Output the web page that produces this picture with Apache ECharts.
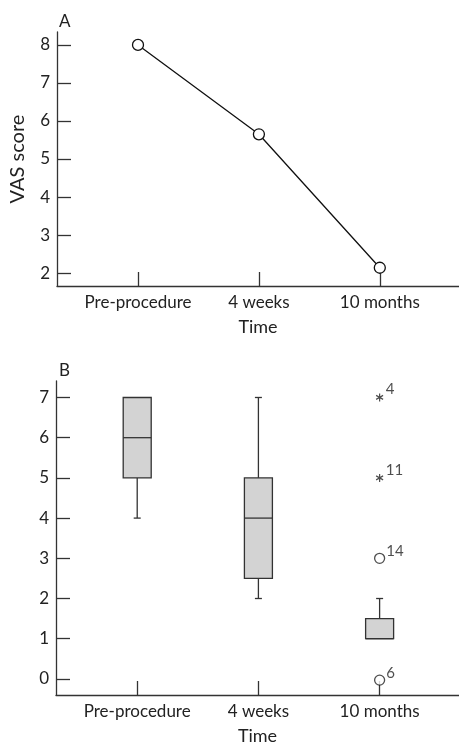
<!DOCTYPE html>
<html><head><meta charset="utf-8">
<script src="https://cdn.jsdelivr.net/npm/echarts@6/dist/echarts.min.js"></script>
<style>html,body{margin:0;padding:0;background:#fff}#c{width:459px;height:746px}</style>
</head><body><div id="c"></div>
<script>
// ---- data ----
const categories = ['Pre-procedure', '4 weeks', '10 months'];
const catPos = [0, 1, 2];
const vasMean = [8.0, 5.65, 2.14];
const yTicksA = [2, 3, 4, 5, 6, 7, 8];
const yTicksB = [0, 1, 2, 3, 4, 5, 6, 7];
const boxMin = [4, 2, 1];
const boxQ1 = [5, 2.5, 1];
const boxMedian = [6, 4, 1];
const boxQ3 = [7, 5, 1.5];
const boxMax = [7, 7, 2];
const extremeCat = [2, 2];
const extremeValue = [7, 5];
const extremeId = ['4', '11'];
const outlierCat = [2, 2];
const outlierValue = [3, -0.03];
const outlierId = ['14', '6'];

// ---- style ----
const FONT = 'Lato, "Liberation Sans", sans-serif';
const TXT = '#222';
const AX = '#333';

function xAxisCfg(gi) {
  return {
    gridIndex: gi, type: 'value', min: -0.67, max: 2.655,
    axisLine: { show: true, onZero: false, lineStyle: { color: AX, width: 1.3 } },
    axisTick: { show: true, inside: true, length: 14, customValues: catPos, lineStyle: { color: AX, width: 1.3 } },
    axisLabel: { customValues: catPos, formatter: v => categories[Math.round(v)], fontFamily: FONT, fontSize: 17, color: TXT, margin: 8 },
    splitLine: { show: false },
    name: 'Time', nameLocation: 'middle', nameGap: 32,
    nameTextStyle: { fontFamily: FONT, fontSize: 18, color: TXT }
  };
}
function yAxisCfg(gi, min, max, ticks, name) {
  return {
    gridIndex: gi, type: 'value', min: min, max: max,
    axisLine: { show: true, onZero: false, lineStyle: { color: AX, width: 1.3 } },
    axisTick: { show: true, inside: true, length: 14, customValues: ticks, lineStyle: { color: AX, width: 1.3 } },
    axisLabel: { customValues: ticks, fontFamily: FONT, fontSize: 17, color: TXT, margin: 7 },
    splitLine: { show: false },
    name: name, nameLocation: 'middle', nameGap: 29, nameRotate: 90,
    nameTextStyle: { fontFamily: FONT, fontSize: 20, color: TXT }
  };
}

const boxData = catPos.map((c, i) => [c, boxMin[i], boxQ1[i], boxMedian[i], boxQ3[i], boxMax[i]]);
const starPath = 'path://M5,0L5,10M0.67,2.5L9.33,7.5M0.67,7.5L9.33,2.5';

const option = {
  animation: false,
  backgroundColor: '#fff',
  title: [
    { text: 'A', left: 59, top: 13, padding: 0, textStyle: { fontFamily: FONT, fontSize: 17, fontWeight: 'normal', color: TXT } },
    { text: 'B', left: 59, top: 362, padding: 0, textStyle: { fontFamily: FONT, fontSize: 17, fontWeight: 'normal', color: TXT } }
  ],
  grid: [
    { left: 56, right: 0, top: 32, height: 254 },
    { left: 56, right: 0, top: 381, height: 316 }
  ],
  xAxis: [xAxisCfg(0), xAxisCfg(1)],
  yAxis: [
    yAxisCfg(0, 1.66, 8.34, yTicksA, 'VAS score'),
    yAxisCfg(1, -0.40, 7.41, yTicksB, '')
  ],
  series: [
    {
      type: 'line', xAxisIndex: 0, yAxisIndex: 0,
      data: catPos.map((c, i) => [c, vasMean[i]]),
      symbol: 'circle', symbolSize: 11,
      lineStyle: { color: '#111', width: 1.3 },
      itemStyle: { color: '#fff', borderColor: '#111', borderWidth: 1.3 }
    },
    {
      type: 'custom', xAxisIndex: 1, yAxisIndex: 1,
      data: boxData,
      encode: { x: 0, y: [1, 2, 3, 4, 5] },
      renderItem: function (params, api) {
        const x = api.value(0);
        const mn = api.value(1), q1 = api.value(2), md = api.value(3), q3 = api.value(4), mx = api.value(5);
        const P = v => api.coord([x, v]);
        const cx = P(md)[0];
        const hw = 14, cw = 3.5;
        const ls = { stroke: '#333', lineWidth: 1.3 };
        const ch = [];
        if (mx > q3) {
          ch.push({ type: 'line', shape: { x1: cx, y1: P(q3)[1], x2: cx, y2: P(mx)[1] }, style: ls });
          ch.push({ type: 'line', shape: { x1: cx - cw, y1: P(mx)[1], x2: cx + cw, y2: P(mx)[1] }, style: ls });
        }
        if (mn < q1) {
          ch.push({ type: 'line', shape: { x1: cx, y1: P(q1)[1], x2: cx, y2: P(mn)[1] }, style: ls });
          ch.push({ type: 'line', shape: { x1: cx - cw, y1: P(mn)[1], x2: cx + cw, y2: P(mn)[1] }, style: ls });
        }
        const yt = P(q3)[1], yb = P(q1)[1];
        ch.push({ type: 'rect', shape: { x: cx - hw, y: yt, width: 2 * hw, height: yb - yt }, style: { fill: '#d3d3d3', stroke: '#333', lineWidth: 1.3 } });
        ch.push({ type: 'line', shape: { x1: cx - hw, y1: P(md)[1], x2: cx + hw, y2: P(md)[1] }, style: ls });
        return { type: 'group', children: ch };
      }
    },
    {
      type: 'scatter', xAxisIndex: 1, yAxisIndex: 1,
      data: extremeCat.map((c, i) => ({ value: [c, extremeValue[i]], name: extremeId[i] })),
      symbol: starPath, symbolSize: [7, 8],
      itemStyle: { color: 'rgba(0,0,0,0)', borderColor: '#222', borderWidth: 1.3 },
      label: { show: true, position: 'right', distance: 2, offset: [0, -8], formatter: p => p.name, fontFamily: FONT, fontSize: 15, color: TXT }
    },
    {
      type: 'scatter', xAxisIndex: 1, yAxisIndex: 1,
      data: outlierCat.map((c, i) => ({ value: [c, outlierValue[i]], name: outlierId[i] })),
      symbol: 'circle', symbolSize: 10,
      itemStyle: { color: '#fff', borderColor: '#222', borderWidth: 1.3 },
      label: { show: true, position: 'right', distance: 1, offset: [0, -7], formatter: p => p.name, fontFamily: FONT, fontSize: 15, color: TXT }
    }
  ]
};
const chart = echarts.init(document.getElementById('c'), null, { renderer: 'canvas' });
chart.setOption(option);
</script>
</body></html>
